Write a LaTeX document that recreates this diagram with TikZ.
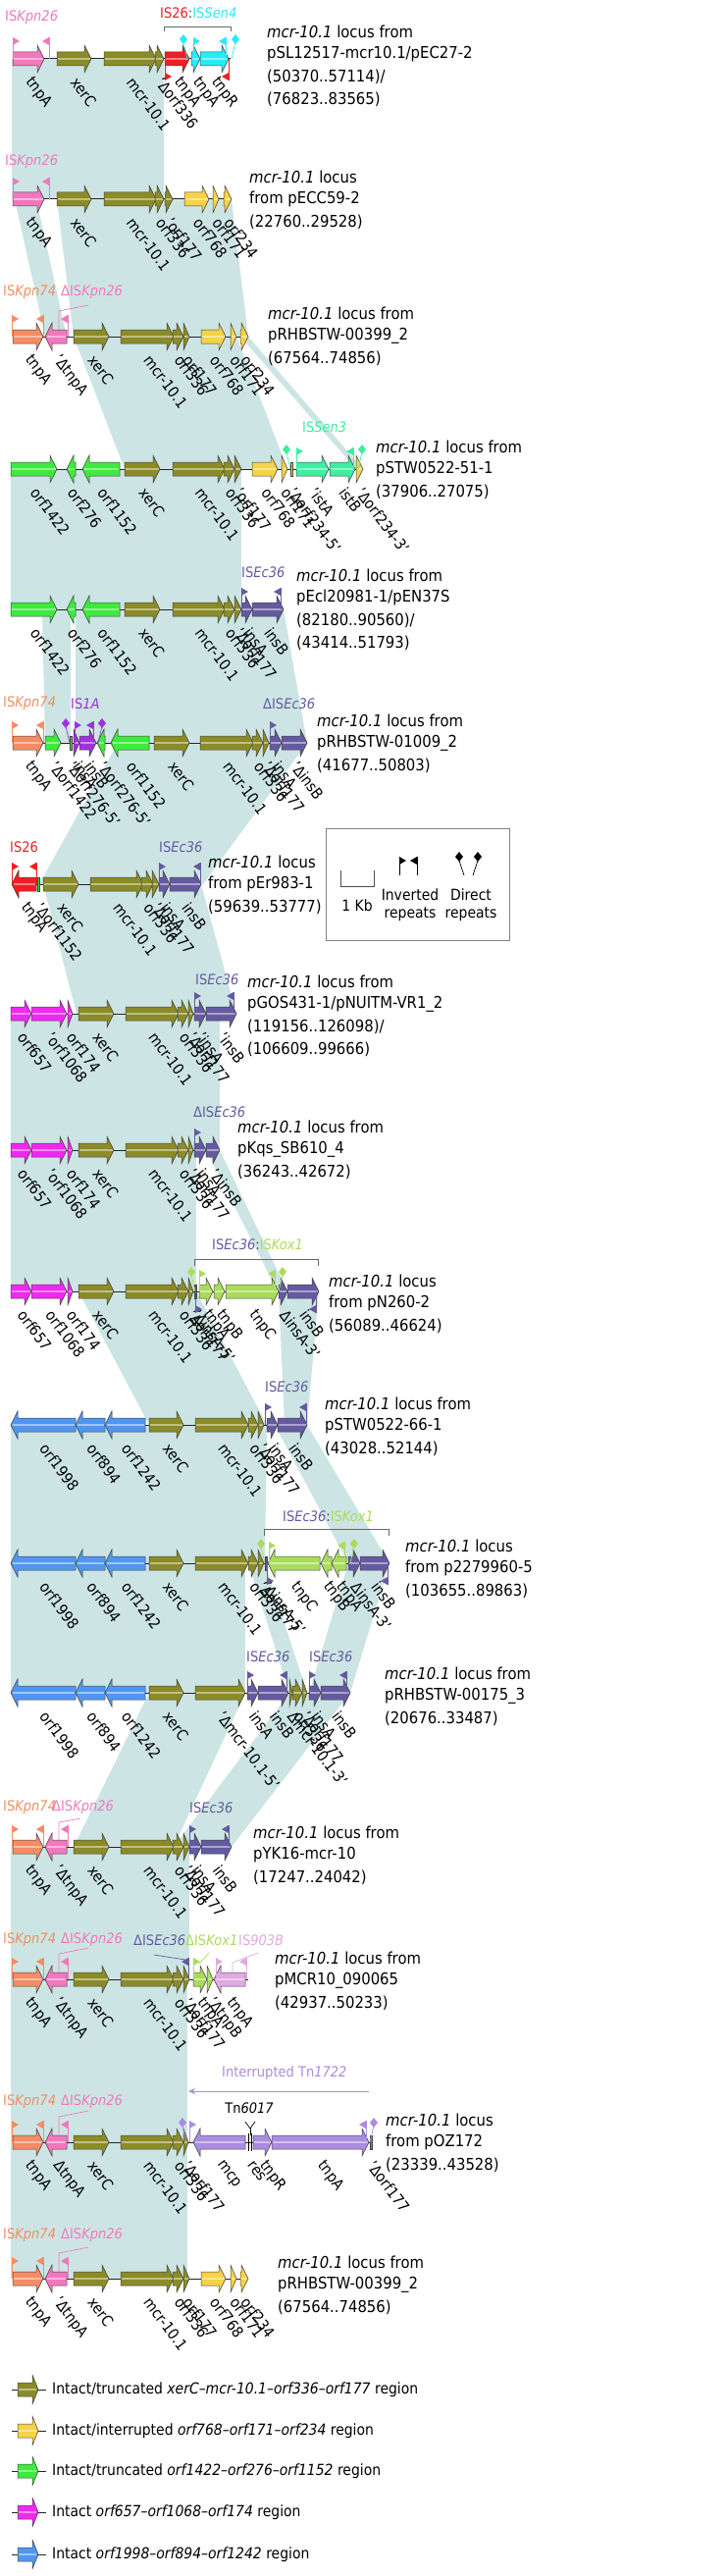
\documentclass[tikz,border=0pt]{standalone}
\usepackage{fontspec}
\setmainfont{DejaVu Sans}[FakeStretch=0.9]
\usetikzlibrary{arrows.meta}
\definecolor{homc}{RGB}{204,229,228}
\definecolor{olv}{RGB}{139,139,39}
\definecolor{pnk}{RGB}{242,120,190}
\definecolor{org}{RGB}{245,140,100}
\definecolor{rd}{RGB}{240,30,35}
\definecolor{cyn}{RGB}{40,235,250}
\definecolor{ylw}{RGB}{245,210,70}
\definecolor{grn}{RGB}{60,235,60}
\definecolor{sea}{RGB}{60,240,160}
\definecolor{pur}{RGB}{100,90,160}
\definecolor{vio}{RGB}{160,50,220}
\definecolor{mag}{RGB}{240,40,240}
\definecolor{lgr}{RGB}{170,220,90}
\definecolor{blu}{RGB}{80,150,240}
\definecolor{lil}{RGB}{225,170,225}
\definecolor{tnp}{RGB}{170,140,225}
\newcommand\fs{\fontsize{16.5}{19}\selectfont}
\newcommand\fg{\fontsize{15.5}{17}\selectfont}
\newcommand\fl{\fontsize{15.5}{17}\selectfont}
\newcommand\fis{\fontsize{14.5}{17}\selectfont}
\newcommand\fb{\fontsize{15.5}{17}\selectfont}
\newcount\nn
\tikzset{
  gene/.style={draw=black!75, line width=0.5pt},
  bb/.style={draw=black!85, line width=1pt},
  glab/.style={rotate=-53, anchor=west, inner sep=0pt, text=black, font=\fg},
  islab/.style={anchor=west, inner sep=0pt, font=\fis},
  loct/.style={anchor=west, inner sep=0pt, text=black},
  boxt/.style={inner sep=0pt, text=black, font=\fb},
  flagst/.style={line width=0.7pt},
  lead/.style={line width=0.7pt}
}
\newcommand\Row[1]{\def\ry{#1}}
\newcommand\Bb[2]{\draw[bb] (#1,\ry) -- (#2,\ry);}
\newcommand\GLabel[2]{\global\advance\nn by 1 \node[glab] (g\the\nn) at (#1,\ry+21) {#2};}
\newcommand\GnR[4]{%
  \pgfmathsetmacro\gA{#1}\pgfmathsetmacro\gB{#2}%
  \pgfmathsetmacro\gH{min(7,\gB-\gA)}\pgfmathsetmacro\gC{\gB-\gH}%
  \filldraw[gene, fill=#3] (\gA,\ry-7) -- (\gC,\ry-7) -- (\gC,\ry-14) -- (\gB,\ry) -- (\gC,\ry+14) -- (\gC,\ry+7) -- (\gA,\ry+7) -- cycle;
  \draw[#3!55!white, line width=1.2pt] (\gA+0.6,\ry) -- (\gB-1.5,\ry);
  \pgfmathsetmacro\gM{(\gA+\gB)/2}\GLabel{\gM}{#4}}
\newcommand\GnL[4]{%
  \pgfmathsetmacro\gA{#1}\pgfmathsetmacro\gB{#2}%
  \pgfmathsetmacro\gH{min(7,\gB-\gA)}\pgfmathsetmacro\gC{\gA+\gH}%
  \filldraw[gene, fill=#3] (\gB,\ry-7) -- (\gC,\ry-7) -- (\gC,\ry-14) -- (\gA,\ry) -- (\gC,\ry+14) -- (\gC,\ry+7) -- (\gB,\ry+7) -- cycle;
  \draw[#3!55!white, line width=1.2pt] (\gA+1.5,\ry) -- (\gB-0.6,\ry);
  \pgfmathsetmacro\gM{(\gA+\gB)/2}\GLabel{\gM}{#4}}
\newcommand\GnT[4]{%
  \filldraw[gene, fill=#3] (#1,\ry-7) rectangle (#2,\ry+7);
  \pgfmathsetmacro\gM{(#1+#2)/2}\GLabel{\gM}{#4}}
\newcommand\IrU[3]{%
  \draw[#3, flagst] (#1,\ry) -- (#1,\ry-22);
  \fill[#3] (#1,\ry-22) -- (#1,\ry-14) -- ({#1+(#2)*7},\ry-18) -- cycle;}
\newcommand\IrD[3]{%
  \draw[#3, flagst] (#1,\ry) -- (#1,\ry+22);
  \fill[#3] (#1,\ry+22) -- (#1,\ry+14) -- ({#1+(#2)*7},\ry+18) -- cycle;}
\newcommand\DrU[3]{%
  \draw[#3, flagst] (#1,\ry) -- ({#1+(#2)*4},\ry-17);
  \fill[#3] ({#1+(#2)*4},\ry-25) -- ({#1+(#2)*4+4},\ry-20) -- ({#1+(#2)*4},\ry-15) -- ({#1+(#2)*4-4},\ry-20) -- cycle;}
\newcommand\Hm[6]{\fill[homc] (#3,#1) -- (#4,#1) -- (#6,#2) -- (#5,#2) -- cycle;}
\newcommand\Loc[3]{\foreach \t [count=\i] in {#3} {\node[loct] (loc#2-\i) at (#1,{#2+(\i-1)*23}) {\t};}}
\newcommand\Lk[1]{\textit{mcr-10.1} locus #1}
\newcommand\KpnLead{\draw[pnk, lead] (90,\ry-32) -- (60,\ry-26) -- (60,\ry-7);}
\begin{document}
\begin{tikzpicture}[x=1pt,y=-1pt, every node/.style={inner sep=0pt,font=\fs}]
\useasboundingbox (0,0) rectangle (741,2625);
\fill[white] (0,0) rectangle (741,2625);
% ---------------- homology shading
\Hm{60}{203}{12}{167}{12}{167}
\Hm{203}{343}{15}{37}{46}{68}
\Hm{203}{343}{58}{236}{75}{253}
\Hm{343}{478}{75}{241}{127}{293}
\Hm{343}{478}{245}{253}{363}{370}
\Hm{478}{621}{11}{246}{11}{246}
\Hm{621}{757}{43}{72}{46}{72}
\Hm{621}{757}{77}{289}{77}{313}
\Hm{757}{901}{120}{313}{40}{207}
\Hm{901}{1033}{44}{205}{78}{241}
\Hm{1033}{1172}{11}{224}{11}{224}
\Hm{1172}{1316}{11}{200}{11}{200}
\Hm{1172}{1316}{210}{224}{283}{293}
\Hm{1316}{1452}{80}{200}{152}{272}
\Hm{1316}{1452}{284}{325}{290}{313}
\Hm{1452}{1593}{11}{272}{11}{270}
\Hm{1452}{1593}{280}{313}{355}{397}
\Hm{1593}{1725}{11}{250}{11}{250}
\Hm{1593}{1725}{253}{270}{295}{313}
\Hm{1593}{1725}{355}{397}{315}{357}
\Hm{1725}{1882}{152}{250}{75}{177}
\Hm{1725}{1882}{295}{357}{177}{236}
\Hm{1882}{2017}{11}{193}{11}{193}
\Hm{2017}{2183}{11}{191}{11}{191}
\Hm{2183}{2322}{11}{191}{11}{191}
% ---------------- Row 1
\Row{60}\Bb{13}{235}
\GnR{13}{45}{pnk}{tnpA}\GnR{58}{93}{olv}{xerC}\GnR{106}{159}{olv}{mcr-10.1}\GnR{158}{167}{olv}{'Δorf336}
\GnR{168}{193}{rd}{tnpA}\GnR{195}{204}{cyn}{tnpA}\GnR{204}{233}{cyn}{tnpR}
\IrU{13}{1}{pnk}\IrU{50}{-1}{pnk}\IrD{168}{1}{rd}\IrD{233}{-1}{rd}
\DrU{191}{-1}{cyn}\IrU{197}{1}{cyn}\IrU{230}{-1}{cyn}\DrU{236}{1}{cyn}
\node[islab,text=pnk] (is1a) at (5,18) {IS\textit{Kpn26}};
\node[islab] (is1b) at (163,13) {\textcolor{rd}{IS26}\textcolor{black!70}{:}\textcolor{cyn}{IS\textit{Sen4}}};
\draw[black!60, line width=0.8pt] (167,32) -- (167,27) -- (235,27) -- (235,32);
\Loc{272}{32}{\Lk{from},pSL12517-mcr10.1/pEC27-2,(50370..57114)/,(76823..83565)}
% ---------------- Row 2
\Row{203}\Bb{13}{236}
\GnR{13}{45}{pnk}{tnpA}\GnR{58}{93}{olv}{xerC}\GnR{106}{159}{olv}{mcr-10.1}\GnR{158}{167}{olv}{orf336}\GnR{168}{176}{olv}{'orf177}
\GnR{188}{213}{ylw}{orf768}\GnR{217}{223}{ylw}{orf171}\GnR{228}{236}{ylw}{orf234}
\IrU{13}{1}{pnk}\IrU{50}{-1}{pnk}
\node[islab,text=pnk] (is2a) at (5,165) {IS\textit{Kpn26}};
\Loc{254}{180}{\Lk{},from pECC59-2,(22760..29528)}
% ---------------- Row 3
\Row{343}\Bb{13}{253}
\GnR{13}{44}{org}{tnpA}\GnL{46}{68}{pnk}{'ΔtnpA}\GnR{75}{111}{olv}{xerC}\GnR{123}{177}{olv}{mcr-10.1}\GnR{176}{187}{olv}{orf336}\GnR{187}{193}{olv}{orf177}
\GnR{205}{230}{ylw}{orf768}\GnR{235}{241}{ylw}{orf171}\GnR{245}{253}{ylw}{orf234}
\IrU{12}{1}{org}\IrU{44}{-1}{org}\IrU{69}{-1}{pnk}\KpnLead
\node[islab,text=org] (is3a) at (3,298) {IS\textit{Kpn74}};
\node[islab,text=pnk] (is3b) at (62,298) {ΔIS\textit{Kpn26}};
\Loc{273}{319}{\Lk{from},pRHBSTW-00399\_2,(67564..74856)}
% ---------------- Row 4
\Row{478}\Bb{11}{370}
\GnR{11}{58}{grn}{orf1422}\GnL{68}{77}{grn}{orf276}\GnL{84}{122}{grn}{orf1152}\GnR{127}{163}{olv}{xerC}\GnR{176}{229}{olv}{mcr-10.1}
\GnR{228}{239}{olv}{orf336}\GnR{239}{246}{olv}{'orf177}\GnR{257}{283}{ylw}{orf768}\GnR{287}{293}{ylw}{orf171}\GnT{296}{298}{ylw}{'Δorf234-5'}
\GnR{302}{335}{sea}{'istA}\GnR{336}{362}{sea}{istB}\GnR{363}{370}{ylw}{'Δorf234-3'}
\DrU{296}{-1}{sea}\IrU{302}{1}{sea}\IrU{360}{-1}{sea}\DrU{365}{1}{sea}
\node[islab,text=sea] (is4a) at (308,435) {IS\textit{Sen3}};
\Loc{383}{455}{\Lk{from},pSTW0522-51-1,(37906..27075)}
% ---------------- Row 5
\Row{621}\Bb{11}{289}
\GnR{11}{58}{grn}{orf1422}\GnL{68}{77}{grn}{orf276}\GnL{84}{122}{grn}{orf1152}\GnR{127}{163}{olv}{xerC}\GnR{176}{229}{olv}{mcr-10.1}
\GnR{228}{239}{olv}{orf336}\GnR{239}{246}{olv}{'Δorf177}\GnR{246}{257}{pur}{insA}\GnR{257}{289}{pur}{insB}
\IrU{246}{1}{pur}\IrU{286}{-1}{pur}
\node[islab,text=pur] (is5a) at (246,583) {IS\textit{Ec36}};
\Loc{302}{586}{\Lk{from},pEcl20981-1/pEN37S,(82180..90560)/,(43414..51793)}
% ---------------- Row 6
\Row{757}\Bb{13}{313}
\GnR{13}{44}{org}{tnpA}\GnR{46}{62}{grn}{'Δorf1422}\GnT{71}{73}{grn}{'Δorf276-5'}\GnR{75}{81}{vio}{insA}\GnR{81}{98}{vio}{insB}
\GnL{99}{107}{grn}{'Δorf276-5'}\GnL{113}{152}{grn}{orf1152}\GnR{157}{193}{olv}{xerC}\GnR{204}{258}{olv}{mcr-10.1}
\GnR{257}{268}{olv}{orf336}\GnR{268}{274}{olv}{'Δorf177}\GnR{275}{287}{pur}{insA}\GnR{287}{313}{pur}{'ΔinsB}
\IrU{12}{1}{org}\IrU{44}{-1}{org}\DrU{71}{-1}{vio}\IrU{76}{1}{vio}\IrU{95}{-1}{vio}\DrU{100}{1}{vio}\IrU{275}{1}{pur}
\node[islab,text=org] (is6a) at (3,717) {IS\textit{Kpn74}};
\node[islab,text=vio] (is6b) at (72,717) {IS\textit{1A}};
\node[islab,text=pur] (is6c) at (268,717) {ΔIS\textit{Ec36}};
\Loc{323}{734}{\Lk{from},pRHBSTW-01009\_2,(41677..50803)}
% ---------------- Row 7
\Row{901}\Bb{12}{205}
\GnL{12}{37}{rd}{tnpA}\GnT{38}{40}{grn}{'Δorf1152}\GnR{44}{80}{olv}{xerC}\GnR{92}{146}{olv}{mcr-10.1}\GnR{144}{156}{olv}{orf336}
\GnR{155}{162}{olv}{'Δorf177}\GnR{162}{173}{pur}{insA}\GnR{173}{205}{pur}{insB}
\IrU{12}{1}{rd}\IrU{37}{-1}{rd}\IrU{162}{1}{pur}\IrU{204}{-1}{pur}
\node[islab,text=rd] (is7a) at (10,863) {IS26};
\node[islab,text=pur] (is7b) at (162,863) {IS\textit{Ec36}};
\Loc{212}{878}{\Lk{},from pEr983-1,(59639..53777)}
% ---------------- legend box
\draw[black!50, line width=1pt] (332,844) rectangle (519,958);
\draw[black!70, line width=0.8pt] (347,887) -- (347,903) -- (381,903) -- (381,887);
\node[boxt] (kb) at (364,923) {1 Kb};
\draw[black, flagst] (407,892) -- (407,873); \fill[black] (407,873) -- (407,881) -- (414,877) -- cycle;
\draw[black, flagst] (425,892) -- (425,873); \fill[black] (425,873) -- (425,881) -- (418,877) -- cycle;
\node[boxt] (inv1) at (418,912) {Inverted};
\node[boxt] (inv2) at (418,932) {repeats};
\draw[black, flagst] (473,892) -- (468,877); \fill[black] (468,868) -- (472,873) -- (468,878) -- (464,873) -- cycle;
\draw[black, flagst] (482,892) -- (487,877); \fill[black] (487,868) -- (491,873) -- (487,878) -- (483,873) -- cycle;
\node[boxt] (dir1) at (480,912) {Direct};
\node[boxt] (dir2) at (480,932) {repeats};
% ---------------- Row 8
\Row{1033}\Bb{11}{241}
\GnR{11}{32}{mag}{orf657}\GnR{32}{68}{mag}{'orf1068}\GnR{69}{74}{mag}{orf174}\GnR{80}{116}{olv}{xerC}\GnR{128}{182}{olv}{mcr-10.1}
\GnR{181}{192}{olv}{orf336}\GnR{192}{197}{olv}{'Δorf177}\GnR{198}{210}{pur}{'insA}\GnR{210}{241}{pur}{'insB}
\IrU{198}{1}{pur}\IrU{238}{-1}{pur}
\node[islab,text=pur] (is8a) at (199,998) {IS\textit{Ec36}};
\Loc{252}{1000}{\Lk{from},pGOS431-1/pNUITM-VR1\_2,(119156..126098)/,(106609..99666)}
% ---------------- Row 9
\Row{1172}\Bb{11}{224}
\GnR{11}{32}{mag}{orf657}\GnR{32}{68}{mag}{'orf1068}\GnR{69}{74}{mag}{orf174}\GnR{80}{116}{olv}{xerC}\GnR{128}{182}{olv}{mcr-10.1}
\GnR{181}{192}{olv}{orf336}\GnR{192}{197}{olv}{'Δorf177}\GnR{198}{210}{pur}{insA}\GnR{210}{224}{pur}{'ΔinsB}
\IrU{198}{1}{pur}
\node[islab,text=pur] (is9a) at (197,1133) {ΔIS\textit{Ec36}};
\Loc{242}{1148}{\Lk{from},pKqs\_SB610\_4,(36243..42672)}
% ---------------- Row 10
\Row{1316}\Bb{11}{325}
\GnR{11}{32}{mag}{orf657}\GnR{32}{68}{mag}{orf1068}\GnR{69}{74}{mag}{orf174}\GnR{80}{116}{olv}{xerC}\GnR{128}{182}{olv}{mcr-10.1}
\GnR{181}{192}{olv}{orf336}\GnR{192}{197}{olv}{'Δorf177}\GnT{198}{200}{pur}{'ΔinsA-5'}
\GnR{203}{217}{lgr}{tnpA}\GnR{218}{229}{lgr}{tnpB}\GnR{230}{284}{lgr}{tnpC}\GnR{284}{293}{pur}{ΔinsA-3'}\GnR{293}{325}{pur}{insB}
\DrU{199}{-1}{lgr}\IrU{203}{1}{lgr}\IrU{280}{-1}{lgr}\DrU{284}{1}{lgr}\IrD{199}{1}{pur}\IrD{322}{-1}{pur}
\node[islab] (is10a) at (216,1268) {\textcolor{pur}{IS\textit{Ec36}}\textcolor{black!70}{:}\textcolor{lgr}{IS\textit{Kox1}}};
\draw[black!60, line width=0.8pt] (198,1290) -- (198,1283) -- (324,1283) -- (324,1290);
\Loc{335}{1305}{\Lk{},from pN260-2,(56089..46624)}
% ---------------- Row 11
\Row{1452}\Bb{11}{313}
\GnL{11}{77}{blu}{orf1998}\GnL{77}{107}{blu}{orf894}\GnL{107}{148}{blu}{orf1242}\GnR{152}{187}{olv}{xerC}\GnR{199}{253}{olv}{mcr-10.1}
\GnR{253}{263}{olv}{orf336}\GnR{263}{269}{olv}{'Δorf177}\GnR{272}{283}{pur}{insA}\GnR{283}{313}{pur}{insB}
\IrU{270}{1}{pur}\IrU{312}{-1}{pur}
\node[islab,text=pur] (is11a) at (270,1413) {IS\textit{Ec36}};
\Loc{331}{1430}{\Lk{from},pSTW0522-66-1,(43028..52144)}
% ---------------- Row 12
\Row{1593}\Bb{11}{397}
\GnL{11}{77}{blu}{orf1998}\GnL{77}{107}{blu}{orf894}\GnL{107}{148}{blu}{orf1242}\GnR{152}{187}{olv}{xerC}\GnR{199}{253}{olv}{mcr-10.1}
\GnR{253}{263}{olv}{orf336}\GnR{263}{269}{olv}{'Δorf177}\GnT{270}{272}{pur}{'ΔinsA-5'}
\GnL{273}{326}{lgr}{tnpC}\GnL{327}{338}{lgr}{tnpB}\GnL{338}{353}{lgr}{tnpA}\GnR{355}{367}{pur}{ΔinsA-3'}\GnR{367}{397}{pur}{insB}
\DrU{270}{-1}{lgr}\IrU{274}{1}{lgr}\IrU{351}{-1}{lgr}\DrU{357}{1}{lgr}\IrD{272}{1}{pur}\IrD{395}{-1}{pur}
\node[islab] (is12a) at (288,1545) {\textcolor{pur}{IS\textit{Ec36}}\textcolor{black!70}{:}\textcolor{lgr}{IS\textit{Kox1}}};
\draw[black!60, line width=0.8pt] (269,1565) -- (269,1558) -- (396,1558) -- (396,1565);
\Loc{413}{1575}{\Lk{},from p2279960-5,(103655..89863)}
% ---------------- Row 13
\Row{1725}\Bb{11}{357}
\GnL{11}{77}{blu}{orf1998}\GnL{77}{107}{blu}{orf894}\GnL{107}{148}{blu}{orf1242}\GnR{152}{187}{olv}{xerC}\GnR{199}{250}{olv}{'Δmcr-10.1-5'}
\GnR{252}{263}{pur}{insA}\GnR{263}{294}{pur}{insB}\GnR{295}{298}{olv}{Δmcr-10.1-3'}\GnR{298}{308}{olv}{orf336}\GnR{308}{313}{olv}{'Δorf177}
\GnR{315}{327}{pur}{insA}\GnR{327}{357}{pur}{insB}
\IrU{252}{1}{pur}\IrU{292}{-1}{pur}\IrU{315}{1}{pur}\IrU{353}{-1}{pur}
\node[islab,text=pur] (is13a) at (251,1688) {IS\textit{Ec36}};
\node[islab,text=pur] (is13b) at (315,1688) {IS\textit{Ec36}};
\Loc{392}{1705}{\Lk{from},pRHBSTW-00175\_3,(20676..33487)}
% ---------------- Row 14
\Row{1882}\Bb{13}{236}
\GnR{13}{44}{org}{tnpA}\GnL{46}{68}{pnk}{'ΔtnpA}\GnR{75}{111}{olv}{xerC}\GnR{123}{177}{olv}{mcr-10.1}\GnR{176}{187}{olv}{orf336}
\GnR{187}{193}{olv}{'Δorf177}\GnR{193}{205}{pur}{insA}\GnR{205}{236}{pur}{insB}
\IrU{12}{1}{org}\IrU{44}{-1}{org}\IrU{69}{-1}{pnk}\draw[pnk, lead] (82,\ry-29) -- (60,\ry-25) -- (60,\ry-7);
\IrU{193}{1}{pur}\IrU{233}{-1}{pur}
\node[islab,text=org] (is14a) at (3,1842) {IS\textit{Kpn74}};
\node[islab,text=pnk] (is14b) at (53,1842) {ΔIS\textit{Kpn26}};
\node[islab,text=pur] (is14c) at (193,1842) {IS\textit{Ec36}};
\Loc{258}{1867}{\Lk{from},pYK16-mcr-10,(17247..24042)}
% ---------------- Row 15
\Row{2017}\Bb{13}{253}
\GnR{13}{44}{org}{tnpA}\GnL{46}{68}{pnk}{'ΔtnpA}\GnR{75}{111}{olv}{xerC}\GnR{123}{177}{olv}{mcr-10.1}\GnR{176}{187}{olv}{orf336}
\GnR{187}{193}{olv}{'Δorf177}\GnR{197}{211}{lgr}{tnpA}\GnR{211}{217}{lgr}{'ΔtnpB}\GnL{218}{250}{lil}{tnpA}
\IrU{12}{1}{org}\IrU{44}{-1}{org}\IrU{69}{-1}{pnk}\KpnLead
\IrU{192}{-1}{pur}\draw[pur, lead] (157,1992) -- (189,1997);
\IrU{197}{1}{lgr}\draw[lgr, lead] (213,1990) -- (203,2001);
\IrU{220}{1}{lil}\IrU{251}{-1}{lil}\draw[lil, lead] (263,1990) -- (237,2000) -- (237,2010);
\node[islab,text=org] (is15a) at (3,1977) {IS\textit{Kpn74}};
\node[islab,text=pnk] (is15b) at (62,1977) {ΔIS\textit{Kpn26}};
\node[islab,text=pur] (is15c) at (136,1977) {ΔIS\textit{Ec36}};
\node[islab,text=lgr] (is15d) at (189,1977) {ΔIS\textit{Kox1}};
\node[islab,text=lil] (is15e) at (243,1977) {IS\textit{903B}};
\Loc{280}{1995}{\Lk{from},pMCR10\_090065,(42937..50233)}
% ---------------- Tn1722
\node[islab,text=tnp] (tn1722) at (226,2112) {Interrupted Tn\textit{1722}};
\coordinate (tnR) at (376,2131); \coordinate (tnL) at (192,2131);
\draw[tnp, line width=0.8pt, -{Stealth[length=7pt,width=6pt]}] (tnR) -- (tnL);
% ---------------- Row 16
\Row{2183}\Bb{13}{380}
\GnR{13}{44}{org}{tnpA}\GnL{46}{68}{pnk}{ΔtnpA}\GnR{75}{111}{olv}{xerC}\GnR{123}{177}{olv}{mcr-10.1}\GnR{176}{187}{olv}{orf336}
\GnR{187}{192}{olv}{'Δorf177}\GnL{197}{250}{tnp}{mcp}
\draw[black, line width=0.8pt] (253.5,\ry-9) -- (253.5,\ry+9); \draw[black, line width=0.8pt] (256.5,\ry-9) -- (256.5,\ry+9);
\GLabel{255}{res}
\GnR{258}{277}{tnp}{tnpR}\GnR{277}{376}{tnp}{tnpA}\GnT{377}{379}{olv}{'Δorf177}
\IrU{12}{1}{org}\IrU{44}{-1}{org}\IrU{69}{-1}{pnk}\KpnLead
\DrU{190}{-1}{tnp}\IrU{193}{1}{tnp}\IrU{373}{-1}{tnp}\DrU{377}{1}{tnp}
\draw[black, line width=0.7pt] (250,2162) -- (255,2169) -- (260,2162); \draw[black, line width=0.7pt] (255,2169) -- (255,2176);
\node[islab, anchor=center, text=black] (tn6017) at (254,2148) {Tn\textit{6017}};
\node[islab,text=org] (is16a) at (3,2142) {IS\textit{Kpn74}};
\node[islab,text=pnk] (is16b) at (62,2142) {ΔIS\textit{Kpn26}};
\Loc{393}{2160}{\Lk{},from pOZ172,(23339..43528)}
% ---------------- Row 17
\Row{2322}\Bb{13}{253}
\GnR{13}{44}{org}{tnpA}\GnL{46}{68}{pnk}{'ΔtnpA}\GnR{75}{111}{olv}{xerC}\GnR{123}{177}{olv}{mcr-10.1}\GnR{176}{187}{olv}{orf336}\GnR{187}{193}{olv}{orf177}
\GnR{205}{230}{ylw}{orf768}\GnR{235}{241}{ylw}{orf171}\GnR{245}{253}{ylw}{orf234}
\IrU{12}{1}{org}\IrU{44}{-1}{org}\IrU{69}{-1}{pnk}\KpnLead
\node[islab,text=org] (is17a) at (3,2278) {IS\textit{Kpn74}};
\node[islab,text=pnk] (is17b) at (62,2278) {ΔIS\textit{Kpn26}};
\Loc{283}{2305}{\Lk{from},pRHBSTW-00399\_2,(67564..74856)}
% ---------------- bottom legend
\foreach \yy/\cc/\tt [count=\k] in {2435/olv/{Intact/truncated \textit{xerC–mcr-10.1–orf336–orf177} region},
  2477/ylw/{Intact/interrupted \textit{orf768–orf171–orf234} region},
  2518/grn/{Intact/truncated \textit{orf1422–orf276–orf1152} region},
  2560/mag/{Intact \textit{orf657–orf1068–orf174} region},
  2603/blu/{Intact \textit{orf1998–orf894–orf1242} region}}{
  \draw[bb] (12,\yy) -- (47,\yy);
  \filldraw[gene, fill=\cc] (18,\yy-7) -- (33,\yy-7) -- (33,\yy-15) -- (39,\yy) -- (33,\yy+15) -- (33,\yy+7) -- (18,\yy+7) -- cycle;
  \draw[\cc!55!white, line width=1.2pt] (18.6,\yy) -- (37,\yy);
  \node[loct, font=\fl] (leg\k) at (53,\yy) {\tt};
}
\end{tikzpicture}
\end{document}
